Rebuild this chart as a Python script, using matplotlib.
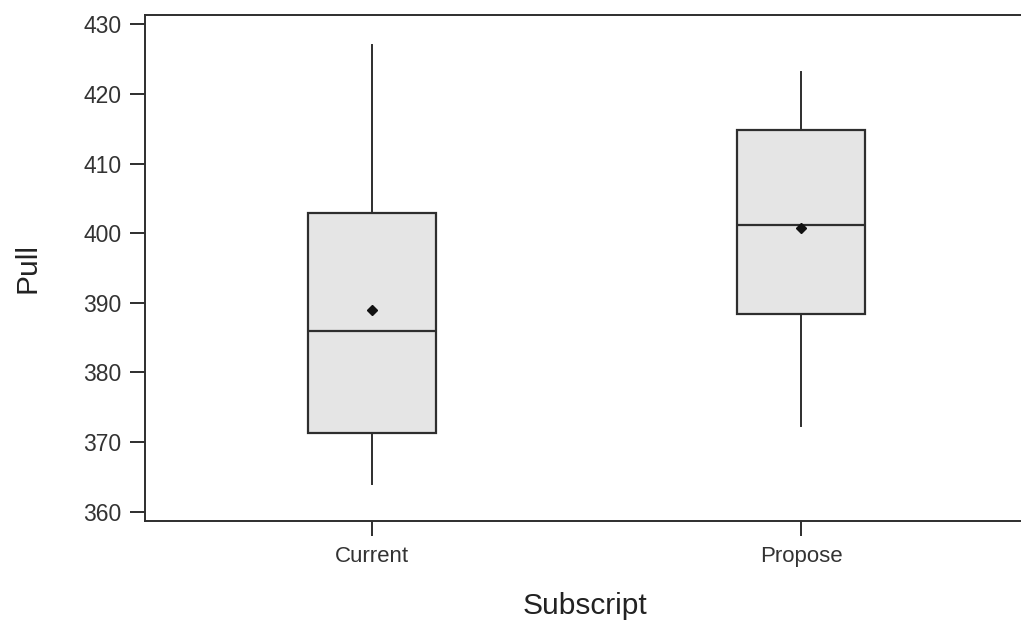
import matplotlib.pyplot as plt

plt.rcParams['font.family'] = ['Liberation Sans', 'DejaVu Sans']

# 各组箱线图统计量
groups = ['Current', 'Propose']
whislo = [364.0, 372.3]
q1 = [371.3, 388.4]
med = [385.9, 401.2]
q3 = [402.9, 414.8]
whishi = [427.0, 423.2]
means = [388.9, 400.7]

stats = []
for i in range(len(groups)):
    stats.append({'label': groups[i], 'whislo': whislo[i], 'q1': q1[i],
                  'med': med[i], 'q3': q3[i], 'whishi': whishi[i],
                  'mean': means[i], 'fliers': []})

fig = plt.figure(figsize=(10.21, 6.26), dpi=100)
ax = fig.add_axes([0.142, 0.168, 0.862, 0.808])

lc = '#2e2e2e'
ax.bxp(stats, positions=[1, 2], widths=0.30, showmeans=True, showcaps=False,
       patch_artist=True,
       boxprops=dict(facecolor='#e5e5e5', edgecolor=lc, linewidth=1.6),
       medianprops=dict(color=lc, linewidth=1.6),
       whiskerprops=dict(color=lc, linewidth=1.4),
       meanprops=dict(marker='D', markerfacecolor='#111111',
                      markeredgecolor='#111111', markersize=5))

ax.set_xlim(0.471, 2.522)
ax.set_ylim(358.66, 431.34)
ax.set_yticks([360, 370, 380, 390, 400, 410, 420, 430])
ax.spines['right'].set_visible(False)
for s in ['left', 'top', 'bottom']:
    ax.spines[s].set_color(lc)
    ax.spines[s].set_linewidth(1.4)
ax.tick_params(axis='both', direction='out', length=11, width=1.4,
               color=lc, labelsize=16.5, labelcolor='#333333', pad=6)
ax.tick_params(axis='x', labelsize=16, pad=7)

ax.set_xlabel('Subscript', fontsize=21.5, color='#222222', labelpad=18)
ax.set_ylabel('Pull', fontsize=21.5, color='#222222', labelpad=30)

plt.savefig('out.png', dpi=100)
